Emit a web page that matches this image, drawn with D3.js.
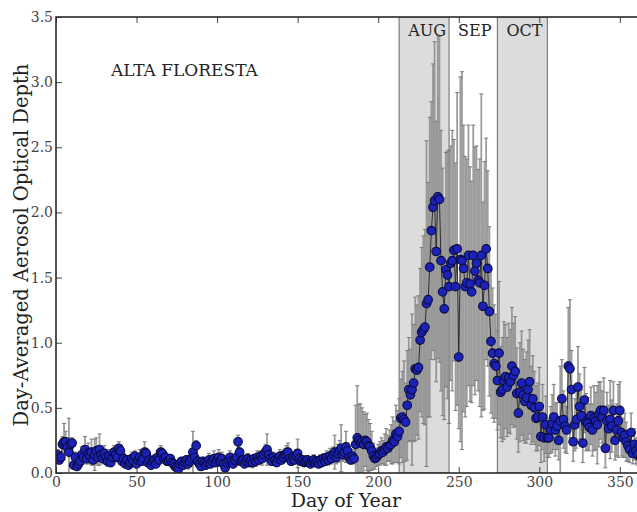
<!DOCTYPE html>
<html>
<head>
<meta charset="utf-8">
<script src="https://cdn.jsdelivr.net/npm/d3@7"></script>
<style>
  html, body { margin: 0; padding: 0; background: #fff; }
  svg { display: block; font-family: "DejaVu Serif", serif; }
</style>
</head>
<body>
<svg id="chart" width="637" height="512"></svg>
<script>
// Day-averaged aerosol optical depth at Alta Floresta, one value per day of year (day 1 .. 365)
const aod = [
  0.14,0.10,0.12,0.22,0.24,0.24,0.20,0.16,0.22,0.23,
  0.06,0.12,0.05,0.07,0.09,0.14,0.12,0.18,0.11,0.15,
  0.13,0.16,0.10,0.14,0.17,0.12,0.18,0.14,0.11,0.15,
  0.12,0.09,0.13,0.08,0.12,0.16,0.14,0.12,0.19,0.17,
  0.09,0.11,0.07,0.10,0.06,0.08,0.11,0.09,0.13,0.07,
  0.10,0.12,0.09,0.11,0.16,0.15,0.08,0.10,0.06,0.09,
  0.10,0.07,0.12,0.10,0.16,0.15,0.11,0.12,0.09,0.09,
  0.11,0.08,0.07,0.05,0.04,0.03,0.07,0.09,0.06,0.08,
  0.10,0.07,0.09,0.11,0.16,0.12,0.21,0.09,0.07,0.05,
  0.09,0.08,0.06,0.08,0.10,0.07,0.09,0.11,0.08,0.10,
  0.12,0.09,0.11,0.07,0.04,0.08,0.10,0.12,0.09,0.07,
  0.10,0.12,0.24,0.16,0.09,0.10,0.07,0.09,0.11,0.08,
  0.10,0.08,0.11,0.09,0.12,0.10,0.13,0.11,0.14,0.16,
  0.18,0.14,0.11,0.09,0.12,0.10,0.08,0.11,0.13,0.10,
  0.12,0.14,0.15,0.16,0.11,0.09,0.12,0.10,0.13,0.15,
  0.11,0.09,0.10,0.08,0.09,0.10,0.08,0.07,0.09,0.10,
  0.08,0.09,0.07,0.10,0.08,0.11,0.09,0.12,0.10,0.13,
  0.11,0.14,0.16,0.12,0.15,0.17,0.19,0.14,0.16,0.20,
  0.17,0.12,0.10,0.13,0.11,0.22,0.27,0.25,0.23,0.24,
  0.22,0.25,0.24,0.21,0.20,0.17,0.13,0.11,0.12,0.14,
  0.15,0.17,0.16,0.18,0.20,0.19,0.21,0.22,0.25,0.24,
  0.30,0.28,0.32,0.42,0.43,0.41,0.39,0.52,0.64,0.60,
  0.64,0.69,0.80,0.79,0.81,1.02,1.08,1.10,1.12,1.30,
  1.33,1.58,1.86,2.04,2.09,1.70,2.12,2.10,1.63,1.39,
  1.26,1.56,1.52,1.43,1.61,1.63,1.71,1.43,1.72,0.89,
  1.64,1.63,1.57,1.43,1.46,1.67,1.45,1.39,1.67,1.55,
  1.61,1.48,1.46,1.67,1.28,1.44,1.72,1.57,1.24,1.01,
  0.92,0.84,0.82,0.71,0.92,0.62,0.64,0.71,0.74,0.66,
  0.73,0.70,0.82,0.75,0.78,0.61,0.46,0.62,0.69,0.60,
  0.55,0.58,0.64,0.70,0.52,0.57,0.50,0.42,0.43,0.51,
  0.28,0.43,0.27,0.37,0.27,0.27,0.33,0.38,0.43,0.33,
  0.36,0.25,0.40,0.57,0.41,0.36,0.33,0.82,0.80,0.64,
  0.24,0.37,0.41,0.66,0.51,0.44,0.23,0.56,0.39,0.38,
  0.35,0.44,0.33,0.42,0.40,0.37,0.45,0.48,0.43,0.48,
  0.19,0.40,0.34,0.41,0.36,0.48,0.25,0.33,0.40,0.48,
  0.31,0.27,0.29,0.24,0.21,0.18,0.31,0.15,0.22,0.17,
  0.14,0.21,0.12,0.18,0.15
];

// Standard deviation of the daily values, drawn as error bars
const aodStd = [
  0.04,0.03,0.04,0.06,0.14,0.08,0.06,0.26,0.05,0.04,
  0.03,0.04,0.03,0.03,0.04,0.06,0.05,0.10,0.04,0.08,
  0.05,0.10,0.04,0.12,0.10,0.06,0.12,0.05,0.04,0.06,
  0.05,0.04,0.05,0.03,0.04,0.05,0.04,0.03,0.05,0.04,
  0.03,0.04,0.03,0.03,0.03,0.04,0.05,0.03,0.04,0.03,
  0.05,0.06,0.03,0.04,0.08,0.04,0.03,0.04,0.03,0.03,
  0.04,0.03,0.05,0.03,0.05,0.04,0.03,0.04,0.03,0.03,
  0.03,0.04,0.03,0.03,0.03,0.03,0.04,0.03,0.03,0.04,
  0.03,0.04,0.03,0.04,0.16,0.05,0.04,0.03,0.03,0.03,
  0.03,0.04,0.03,0.03,0.05,0.03,0.04,0.06,0.03,0.05,
  0.06,0.04,0.05,0.03,0.03,0.04,0.03,0.05,0.04,0.03,
  0.03,0.04,0.05,0.10,0.03,0.04,0.03,0.03,0.04,0.03,
  0.03,0.04,0.03,0.04,0.05,0.03,0.04,0.05,0.04,0.06,
  0.12,0.05,0.04,0.03,0.04,0.03,0.03,0.04,0.05,0.03,
  0.04,0.05,0.06,0.07,0.04,0.03,0.04,0.03,0.05,0.11,
  0.04,0.03,0.03,0.03,0.04,0.03,0.03,0.03,0.03,0.04,
  0.03,0.03,0.03,0.04,0.03,0.04,0.03,0.05,0.04,0.06,
  0.04,0.06,0.13,0.05,0.07,0.08,0.18,0.05,0.06,0.12,
  0.06,0.04,0.03,0.05,0.04,0.30,0.40,0.28,0.30,0.26,
  0.25,0.20,0.22,0.20,0.18,0.15,0.10,0.08,0.07,0.08,
  0.09,0.10,0.09,0.12,0.14,0.10,0.12,0.15,0.18,0.16,
  0.22,0.20,0.25,0.30,0.35,0.45,0.30,0.42,0.40,0.35,
  0.58,0.45,0.55,0.50,0.55,0.55,0.65,0.72,0.75,1.25,
  0.90,1.15,0.99,1.10,1.22,1.00,1.24,1.25,1.00,0.95,
  0.85,0.90,0.95,1.05,0.90,1.00,0.85,0.95,1.20,0.55,
  1.40,1.45,1.10,1.00,0.95,1.00,0.90,0.85,1.00,0.95,
  0.90,0.85,0.95,1.24,0.80,0.95,0.85,0.75,0.65,0.55,
  0.50,0.45,0.40,0.38,0.55,0.35,0.40,0.45,0.40,0.38,
  0.42,0.40,0.45,0.40,0.42,0.35,0.30,0.38,0.40,0.35,
  0.32,0.35,0.38,0.40,0.30,0.33,0.28,0.25,0.26,0.30,
  0.20,0.25,0.18,0.22,0.15,0.15,0.18,0.22,0.25,0.20,
  0.18,0.15,0.42,0.30,0.22,0.20,0.18,0.45,0.53,0.30,
  0.15,0.20,0.22,0.31,0.25,0.20,0.15,0.25,0.22,0.20,
  0.18,0.22,0.20,0.25,0.22,0.30,0.25,0.22,0.20,0.25,
  0.15,0.22,0.18,0.30,0.20,0.22,0.15,0.20,0.28,0.22,
  0.18,0.15,0.17,0.15,0.12,0.10,0.15,0.08,0.12,0.10,
  0.08,0.12,0.07,0.10,0.08
];

// Burning-season months, shaded: name, first day of year, first day of the next month
const monthNames = ["AUG", "OCT"];
const monthStarts = [213, 274];
const monthEnds = [244, 305];
const unshadedName = "SEP";
const unshadedStart = 244;

const siteName = "ALTA FLORESTA";
const xTicks = [0, 50, 100, 150, 200, 250, 300, 350];
const yTicks = [0.0, 0.5, 1.0, 1.5, 2.0, 2.5, 3.0, 3.5];

(function () {
  const firstDay = 1;
  const data = aod.map((v, i) => ({ day: firstDay + i, mean: v, sd: aodStd[i] }));

  const svg = d3.select("#chart");
  const pLeft = 56, pTop = 17, pBottom = 473;
  const pRight = pLeft + 366 * 1.611;

  const x = d3.scaleLinear().domain([0, 366]).range([pLeft, pRight]);
  const y = d3.scaleLinear().domain([0, 3.5]).range([pBottom, pTop]);

  svg.append("defs").append("clipPath").attr("id", "plotClip")
    .append("rect").attr("x", pLeft).attr("y", pTop)
    .attr("width", pRight - pLeft).attr("height", pBottom - pTop);

  const plot = svg.append("g").attr("clip-path", "url(#plotClip)");

  // Month bands
  plot.selectAll("rect.band").data(monthStarts).enter().append("rect")
    .attr("class", "band")
    .attr("x", d => x(d))
    .attr("y", pTop)
    .attr("width", (d, i) => x(monthEnds[i]) - x(d))
    .attr("height", pBottom - pTop)
    .attr("fill", "#dcdcdc")
    .attr("stroke", "#7c7c7c")
    .attr("stroke-width", 1.2);

  // Error bars with caps
  const eb = plot.append("g").attr("stroke", "#8c8c8c").attr("stroke-width", 1.8).attr("stroke-opacity", 0.85);
  eb.selectAll("line.err").data(data).enter().append("line")
    .attr("class", "err")
    .attr("x1", d => x(d.day)).attr("x2", d => x(d.day))
    .attr("y1", d => y(d.mean - d.sd)).attr("y2", d => y(d.mean + d.sd));
  const caps = plot.append("g").attr("stroke", "#7a7a7a").attr("stroke-width", 1);
  caps.selectAll("line.capTop").data(data).enter().append("line")
    .attr("class", "capTop")
    .attr("x1", d => x(d.day) - 2).attr("x2", d => x(d.day) + 2)
    .attr("y1", d => y(d.mean + d.sd)).attr("y2", d => y(d.mean + d.sd));
  caps.selectAll("line.capBot").data(data).enter().append("line")
    .attr("class", "capBot")
    .attr("x1", d => x(d.day) - 2).attr("x2", d => x(d.day) + 2)
    .attr("y1", d => y(d.mean - d.sd)).attr("y2", d => y(d.mean - d.sd));

  // Line through the daily means
  plot.append("path").datum(data)
    .attr("fill", "none").attr("stroke", "#222").attr("stroke-width", 0.9)
    .attr("d", d3.line().x(d => x(d.day)).y(d => y(d.mean)));

  // Daily mean markers
  plot.selectAll("circle").data(data).enter().append("circle")
    .attr("cx", d => x(d.day)).attr("cy", d => y(d.mean)).attr("r", 4.3)
    .attr("fill", "#1a22b8").attr("stroke", "#0a0a3a").attr("stroke-width", 1.1);

  // Axes with inward ticks
  const tickFont = g => g.selectAll("text").attr("font-family", "DejaVu Serif").attr("font-size", 14).attr("fill", "#444");

  svg.append("g").attr("transform", `translate(0,${pBottom})`)
    .call(d3.axisBottom(x).tickValues(xTicks).tickSizeInner(-6).tickSizeOuter(0).tickPadding(4).tickFormat(d3.format("d")))
    .call(g => g.select(".domain").remove())
    .call(g => g.selectAll("line").attr("stroke", "#444"))
    .call(tickFont);

  svg.append("g").attr("transform", `translate(0,${pTop})`)
    .call(d3.axisTop(x).tickValues(xTicks).tickSizeInner(-6).tickSizeOuter(0).tickFormat(""))
    .call(g => g.select(".domain").remove())
    .call(g => g.selectAll("line").attr("stroke", "#444"));

  svg.append("g").attr("transform", `translate(${pLeft},0)`)
    .call(d3.axisLeft(y).tickValues(yTicks).tickSizeInner(-6).tickSizeOuter(0).tickPadding(3).tickFormat(d3.format(".1f")))
    .call(g => g.select(".domain").remove())
    .call(g => g.selectAll("line").attr("stroke", "#444"))
    .call(tickFont);

  // Frame
  svg.append("rect").attr("x", pLeft).attr("y", pTop)
    .attr("width", pRight - pLeft).attr("height", pBottom - pTop)
    .attr("fill", "none").attr("stroke", "#2a2a2a").attr("stroke-width", 1.6);

  // Month labels
  svg.selectAll("text.month").data(monthNames).enter().append("text")
    .attr("class", "month")
    .attr("x", (d, i) => x(monthStarts[i]) + 9).attr("y", 36)
    .attr("font-size", 16).attr("fill", "#222").text(d => d);
  svg.append("text").attr("x", x(unshadedStart) + 9).attr("y", 36)
    .attr("font-size", 16).attr("fill", "#222").text(unshadedName);

  // Site name
  svg.append("text").attr("x", 111).attr("y", 76)
    .attr("font-size", 17).attr("fill", "#222").text(siteName);

  // Axis titles
  svg.append("text").attr("x", 346).attr("y", 507)
    .attr("text-anchor", "middle").attr("font-size", 19).attr("fill", "#222")
    .text("Day of Year");
  svg.append("text")
    .attr("transform", `translate(28,${(pTop + pBottom) / 2}) rotate(-90)`)
    .attr("text-anchor", "middle").attr("font-size", 19.5).attr("fill", "#222")
    .text("Day-Averaged Aerosol Optical Depth");
})();
</script>
</body>
</html>
